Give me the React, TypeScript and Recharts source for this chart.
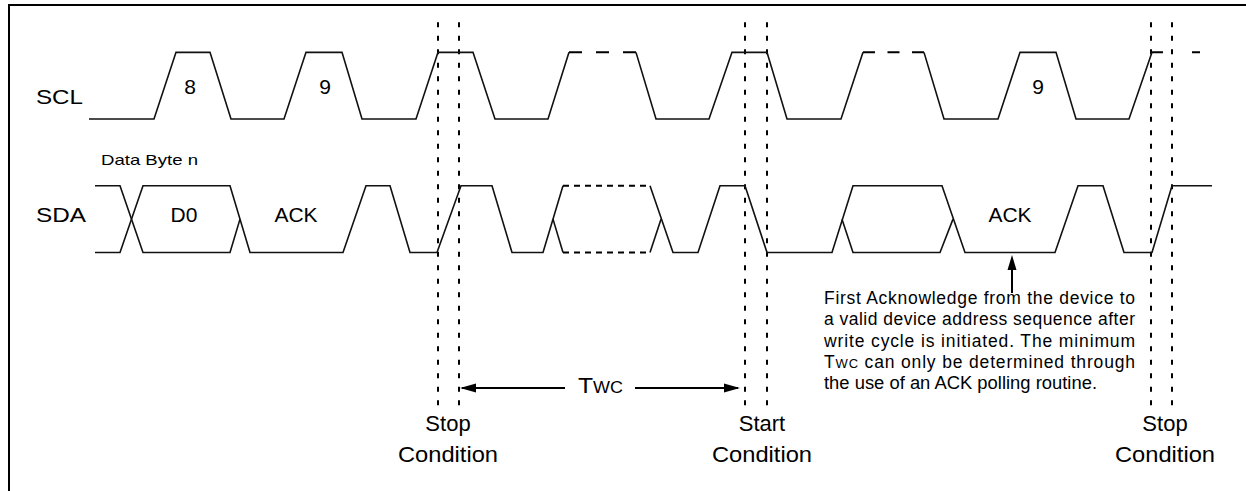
import React from "react";
import { LineChart, Line, XAxis, YAxis, ReferenceLine, ReferenceDot } from "recharts";

// signal levels (y units)
const SCL_H = 3;
const SCL_L = 2;
const SDA_H = 1;
const SDA_L = 0;
const SDA_M = 0.5;

type Pt = [number, number];

// SCL solid runs, [time, level]
const sclRuns: Pt[][] = [
  [[89, SCL_L], [154, SCL_L], [176, SCL_H], [210, SCL_H], [231, SCL_L], [284, SCL_L], [306, SCL_H], [342, SCL_H], [362, SCL_L], [416, SCL_L], [438, SCL_H], [473, SCL_H], [495, SCL_L], [548, SCL_L], [569, SCL_H]],
  [[636, SCL_H], [656, SCL_L], [709, SCL_L], [732, SCL_H], [767, SCL_H], [787, SCL_L], [841, SCL_L], [863, SCL_H]],
  [[924, SCL_H], [944, SCL_L], [998, SCL_L], [1020, SCL_H], [1056, SCL_H], [1076, SCL_L], [1129, SCL_L], [1152, SCL_H]],
];
// SCL broken (dashed) high runs: start, end
const sclGaps: Pt[] = [[569, 636], [863, 924], [1152, 1200]];
const sclGapDash = ["13 14", "12 12.5", "11 29"];

// SDA solid runs
const sdaRuns: Pt[][] = [
  [[95, SDA_H], [120, SDA_H], [143, SDA_L], [230, SDA_L], [240, SDA_M]],
  [[95, SDA_L], [120, SDA_L], [143, SDA_H], [230, SDA_H], [250, SDA_L], [343, SDA_L], [366, SDA_H], [390, SDA_H], [410, SDA_L], [437, SDA_L], [461, SDA_H], [492, SDA_H], [512, SDA_L], [543, SDA_L], [563, SDA_H]],
  [[553, SDA_M], [563, SDA_L]],
  [[650, SDA_H], [673, SDA_L], [698, SDA_L], [720, SDA_H], [745, SDA_H], [767, SDA_L], [832, SDA_L], [853, SDA_H], [942, SDA_H], [965, SDA_L], [1055, SDA_L], [1078, SDA_H], [1103, SDA_H], [1124, SDA_L], [1152, SDA_L], [1172, SDA_H], [1212, SDA_H]],
  [[650, SDA_L], [661, SDA_M]],
  [[842, SDA_M], [853, SDA_L], [940, SDA_L], [953, SDA_M]],
];
// SDA dashed (unknown) runs: start, end, level
const sdaUnknown: [number, number, number][] = [[563, 650, SDA_H], [563, 650, SDA_L]];

// condition markers (time)
const condTimes = [438, 459, 745, 767, 1151, 1172];
const condTop = 3.45;
const condBottom = -2.325;

// labels: text, time, level
const bigLabels: [string, number, number][] = [
  ["8", 190, 2.376],
  ["9", 325, 2.376],
  ["9", 1038, 2.376],
  ["D0", 184, 0.45],
  ["ACK", 296, 0.45],
  ["ACK", 1010, 0.45],
];
const condLabels: [string, string, number][] = [
  ["Stop", "Condition", 448],
  ["Start", "Condition", 762],
  ["Stop", "Condition", 1165],
];
const noteLines = [
  "First Acknowledge from the device to",
  "a valid device address sequence after",
  "write cycle is initiated. The minimum",
  " can only be determined through",
  "the use of an ACK polling routine.",
];
const noteLevels = [-0.772, -1.091, -1.411, -1.727, -2.046];

const FONT = "'Liberation Sans', Arial, Helvetica, sans-serif";
const INK = "#111";

const toData = (run: Pt[]) => run.map(([t, v]) => ({ t, v }));

const Txt = (p: any) => (
  <text
    x={p.cx}
    y={p.cy}
    textAnchor={p.anchor || "start"}
    fontSize={p.size}
    fontFamily={FONT}
    fill="#000"
    textLength={p.len}
    lengthAdjust={p.adjust || "spacingAndGlyphs"}
  >
    {p.children}
  </text>
);

const Head = (dir: "up" | "left" | "right") => (p: any) => {
  const { cx, cy } = p;
  let pts = "";
  if (dir === "up") pts = `${cx},${cy} ${cx - 4.5},${cy + 15} ${cx + 4.5},${cy + 15}`;
  if (dir === "left") pts = `${cx},${cy} ${cx + 16},${cy - 4.5} ${cx + 16},${cy + 4.5}`;
  if (dir === "right") pts = `${cx},${cy} ${cx - 16},${cy - 4.5} ${cx - 16},${cy + 4.5}`;
  return <polygon points={pts} fill="#000" />;
};

export default function App() {
  return (
    <div style={{ position: "absolute", left: 0, top: 0, width: 1246, height: 491, background: "#fff", overflow: "hidden" }}>
      <div style={{ position: "absolute", left: 8, top: 4, width: 1300, height: 600, borderTop: "2.5px solid #000", borderLeft: "2px solid #000" }} />
      <div style={{ position: "absolute", left: 0, top: 0 }}>
        <LineChart width={1246} height={491} margin={{ top: 19, right: 0, bottom: 5, left: 0 }}>
          <XAxis dataKey="t" type="number" domain={[0, 1246]} hide allowDataOverflow />
          <YAxis type="number" domain={[-3.5, 3.5]} hide allowDataOverflow />

          {condTimes.map((t, i) => (
            <ReferenceLine
              key={`c${i}`}
              segment={[{ x: t, y: condTop }, { x: t, y: condBottom }]}
              stroke="#000"
              strokeWidth={2}
              strokeDasharray="5 8.5"
              ifOverflow="visible"
            />
          ))}

          {sclRuns.map((run, i) => (
            <Line key={`scl${i}`} data={toData(run)} dataKey="v" type="linear" stroke={INK} strokeWidth={1.6} dot={false} activeDot={false} isAnimationActive={false} />
          ))}
          {sclGaps.map(([a, b], i) => (
            <Line key={`sg${i}`} data={toData([[a, SCL_H], [b, SCL_H]])} dataKey="v" type="linear" stroke="#000" strokeWidth={2} strokeDasharray={sclGapDash[i]} dot={false} activeDot={false} isAnimationActive={false} />
          ))}
          {sdaRuns.map((run, i) => (
            <Line key={`sda${i}`} data={toData(run)} dataKey="v" type="linear" stroke={INK} strokeWidth={1.6} dot={false} activeDot={false} isAnimationActive={false} />
          ))}
          {sdaUnknown.map(([a, b, lv], i) => (
            <Line key={`su${i}`} data={toData([[a, lv], [b, lv]])} dataKey="v" type="linear" stroke="#000" strokeWidth={2} strokeDasharray="6 5" dot={false} activeDot={false} isAnimationActive={false} />
          ))}

          {/* Twc arrow */}
          <ReferenceLine segment={[{ x: 462, y: -2.031 }, { x: 565, y: -2.031 }]} stroke="#000" strokeWidth={2} ifOverflow="visible" />
          <ReferenceLine segment={[{ x: 635, y: -2.031 }, { x: 738, y: -2.031 }]} stroke="#000" strokeWidth={2} ifOverflow="visible" />
          <ReferenceDot x={460} y={-2.031} r={0} ifOverflow="visible" shape={Head("left")} />
          <ReferenceDot x={740} y={-2.031} r={0} ifOverflow="visible" shape={Head("right")} />

          {/* ACK pointer */}
          <ReferenceLine segment={[{ x: 1012, y: -0.607 }, { x: 1012, y: -0.2 }]} stroke="#000" strokeWidth={2} ifOverflow="visible" />
          <ReferenceDot x={1012} y={-0.037} r={0} ifOverflow="visible" shape={Head("up")} />

          {/* labels */}
          <ReferenceDot x={36} y={2.226} r={0} ifOverflow="visible" shape={(p: any) => <Txt {...p} size={21} len={47}>SCL</Txt>} />
          <ReferenceDot x={36} y={0.457} r={0} ifOverflow="visible" shape={(p: any) => <Txt {...p} size={21} len={50}>SDA</Txt>} />
          <ReferenceDot x={101} y={1.312} r={0} ifOverflow="visible" shape={(p: any) => <Txt {...p} size={15} len={97}>Data Byte n</Txt>} />
          {bigLabels.map(([s, t, v], i) => (
            <ReferenceDot key={`b${i}`} x={t} y={v} r={0} ifOverflow="visible" shape={(p: any) => <Txt {...p} size={21} anchor="middle">{s}</Txt>} />
          ))}
          {condLabels.map(([a, b, t], i) => (
            <React.Fragment key={`cl${i}`}>
              <ReferenceDot x={t} y={-2.676} r={0} ifOverflow="visible" shape={(p: any) => <Txt {...p} size={22} anchor="middle">{a}</Txt>} />
              <ReferenceDot x={t} y={-3.133} r={0} ifOverflow="visible" shape={(p: any) => <Txt {...p} size={22} anchor="middle" len={100}>{b}</Txt>} />
            </React.Fragment>
          ))}
          <ReferenceDot
            x={578}
            y={-2.106}
            r={0}
            ifOverflow="visible"
            shape={(p: any) => (
              <Txt {...p} size={22} len={45}>
                T<tspan fontSize={16}>WC</tspan>
              </Txt>
            )}
          />
          {noteLines.map((s, i) => (
            <ReferenceDot
              key={`n${i}`}
              x={824}
              y={noteLevels[i]}
              r={0}
              ifOverflow="visible"
              shape={(p: any) => (
                <Txt {...p} size={17.5} len={i === 4 ? 273 : 311} adjust={i === 4 ? "spacingAndGlyphs" : "spacing"}>
                  {i === 3 ? (
                    <>
                      T<tspan fontSize={13}>WC</tspan>
                      <tspan fontSize={17.5}>{s}</tspan>
                    </>
                  ) : (
                    s
                  )}
                </Txt>
              )}
            />
          ))}
        </LineChart>
      </div>
    </div>
  );
}
